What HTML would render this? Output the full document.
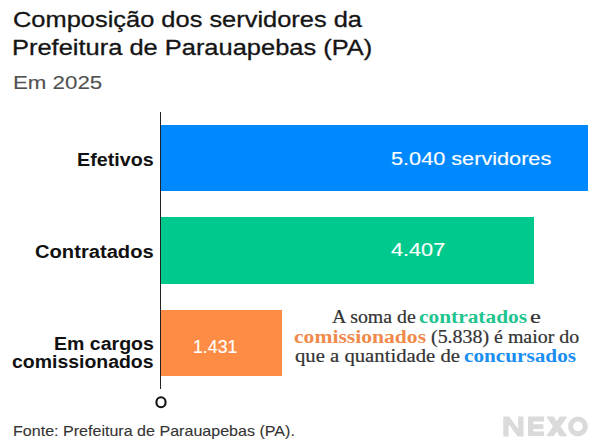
<!DOCTYPE html>
<html><head><meta charset="utf-8">
<style>
html,body{margin:0;padding:0;background:#fff;width:600px;height:447px;overflow:hidden;position:relative}
.t{position:absolute;white-space:nowrap;line-height:1;transform-origin:0 0}
</style></head><body>
<div style="position:absolute;left:159.5px;top:112px;width:1.5px;height:276.5px;background:#222"></div>
<div style="position:absolute;left:161px;top:125.3px;width:427px;height:66.2px;background:#0088ff"></div>
<div style="position:absolute;left:161px;top:217.4px;width:373px;height:66.2px;background:#00c98e"></div>
<div style="position:absolute;left:161px;top:309.5px;width:121px;height:66.2px;background:#ff8c45"></div>
<svg style="position:absolute;left:0;top:0" width="600" height="447"><g fill="#dadada" stroke="#dadada" stroke-width="1.2" stroke-linejoin="round" transform="translate(0.3,0.3)">
<path d="M503.6,435.6 V416.9 H508.6 L518.5,430.6 V416.9 H522.6 V435.6 H517.6 L507.7,421.9 V435.6 Z"/>
<path d="M528.3,416.9 H543.2 V420.6 H532.4 V424.5 H542.6 V428.0 H532.4 V431.9 H543.2 V435.2 H528.3 Z"/>
<polygon points="547.0,416.9 553.0,416.9 556.45,422.0 559.9,416.9 565.9,416.9 559.45,426.1 565.9,435.3 559.9,435.3 556.45,430.2 553.0,435.3 547.0,435.3 553.45,426.1"/>
</g><circle cx="577.95" cy="426.4" r="7.35" fill="none" stroke="#dadada" stroke-width="5.1"/><ellipse cx="161" cy="402.2" rx="4.6" ry="5.0" fill="none" stroke="#111" stroke-width="2.1"/></svg>
<div id="title1" class="t" style="left:12.90px;top:9.5px;font-family:'Liberation Sans',sans-serif;font-size:21.5px;font-weight:400;color:#151515;transform:scaleX(1.1824);-webkit-text-stroke:0.3px currentColor">Composição dos servidores da</div>
<div id="title2" class="t" style="left:12.11px;top:38px;font-family:'Liberation Sans',sans-serif;font-size:21.5px;font-weight:400;color:#151515;transform:scaleX(1.1836);-webkit-text-stroke:0.3px currentColor">Prefeitura de Parauapebas (PA)</div>
<div id="sub" class="t" style="left:12.83px;top:74.2px;font-family:'Liberation Sans',sans-serif;font-size:18.7px;font-weight:400;color:#505050;transform:scaleX(1.1921);-webkit-text-stroke:0.1px currentColor">Em 2025</div>
<div id="l1" class="t" style="left:76.65px;top:151px;font-family:'Liberation Sans',sans-serif;font-size:18px;font-weight:700;color:#111;transform:scaleX(1.0942);">Efetivos</div>
<div id="l2" class="t" style="left:35.07px;top:243px;font-family:'Liberation Sans',sans-serif;font-size:18px;font-weight:700;color:#111;transform:scaleX(1.1198);">Contratados</div>
<div id="l3a" class="t" style="left:53.66px;top:335px;font-family:'Liberation Sans',sans-serif;font-size:18px;font-weight:700;color:#111;transform:scaleX(1.0856);">Em cargos</div>
<div id="l3b" class="t" style="left:12.01px;top:353px;font-family:'Liberation Sans',sans-serif;font-size:18px;font-weight:700;color:#111;transform:scaleX(1.0803);">comissionados</div>
<div id="v1" class="t" style="left:391.07px;top:150.5px;font-family:'Liberation Sans',sans-serif;font-size:17.5px;font-weight:400;color:#fff;transform:scaleX(1.2387);-webkit-text-stroke:0.15px currentColor">5.040 servidores</div>
<div id="v2" class="t" style="left:391.31px;top:241.5px;font-family:'Liberation Sans',sans-serif;font-size:17.5px;font-weight:400;color:#fff;transform:scaleX(1.2382);-webkit-text-stroke:0.15px currentColor">4.407</div>
<div id="v3" class="t" style="left:193.00px;top:338.5px;font-family:'Liberation Sans',sans-serif;font-size:17.5px;font-weight:400;color:#fff;transform:scaleX(1.0135);-webkit-text-stroke:0.15px currentColor">1.431</div>
<div id="fonte" class="t" style="left:12.94px;top:424px;font-family:'Liberation Sans',sans-serif;font-size:14.5px;font-weight:400;color:#333;transform:scaleX(1.1079);-webkit-text-stroke:0.1px currentColor">Fonte: Prefeitura de Parauapebas (PA).</div>
<div id="a1a" class="t" style="left:331.68px;top:307.7px;font-family:'Liberation Serif',serif;font-size:18px;font-weight:400;color:#333;transform:scaleX(1.1017);-webkit-text-stroke:0.2px currentColor">A soma de</div>
<div id="a1b" class="t" style="left:418.62px;top:307.7px;font-family:'Liberation Serif',serif;font-size:18px;font-weight:700;color:#1fc48f;transform:scaleX(1.1876);">contratados</div>
<div id="a1c" class="t" style="left:530.33px;top:307.7px;font-family:'Liberation Serif',serif;font-size:18px;font-weight:400;color:#333;transform:scaleX(1.3515);-webkit-text-stroke:0.2px currentColor">e</div>
<div id="a2a" class="t" style="left:294.21px;top:327.5px;font-family:'Liberation Serif',serif;font-size:18px;font-weight:700;color:#f08a4b;transform:scaleX(1.2003);">comissionados</div>
<div id="a2b" class="t" style="left:431.15px;top:327.5px;font-family:'Liberation Serif',serif;font-size:18px;font-weight:400;color:#333;transform:scaleX(1.1065);-webkit-text-stroke:0.2px currentColor">(5.838) é maior do</div>
<div id="a3a" class="t" style="left:295.46px;top:347.3px;font-family:'Liberation Serif',serif;font-size:18px;font-weight:400;color:#333;transform:scaleX(1.1497);-webkit-text-stroke:0.2px currentColor">que a quantidade de</div>
<div id="a3b" class="t" style="left:464.22px;top:347.3px;font-family:'Liberation Serif',serif;font-size:18px;font-weight:700;color:#1b8ef2;transform:scaleX(1.1791);">concursados</div>
</body></html>
